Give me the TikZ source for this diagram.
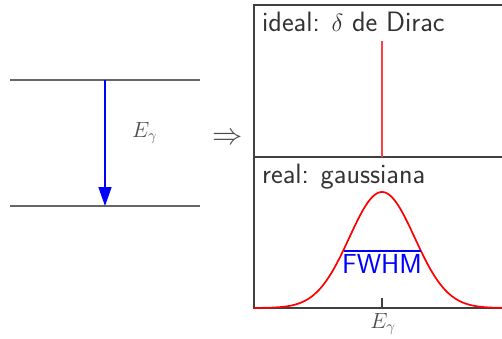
\documentclass[tikz,border=0pt]{standalone}
\usepackage{fontspec}
\usepackage{graphicx}
\usetikzlibrary{arrows.meta}
\begin{document}
\begin{tikzpicture}[x=1pt,y=-1pt,
  level/.style={draw=black!60, line width=1.6pt},
  frame/.style={draw=black!75, line width=1.4pt},
  lbl/.style={inner sep=0pt, text=black!80},
  big/.style={font=\sffamily\fontsize{28}{30}\selectfont},
  mathlbl/.style={font=\fontsize{17.28}{20}\selectfont, text=black!70}]
\useasboundingbox (0,0) rectangle (502,339);
\clip (0,0) rectangle (502,339);
% energy levels
\coordinate (u1) at (10,80); \coordinate (u2) at (200,80);
\coordinate (l1) at (10,206); \coordinate (l2) at (200,206);
\coordinate (a1) at (105,80); \coordinate (a2) at (105,206);
\draw[level] (u1) -- (u2);
\draw[level] (l1) -- (l2);
\draw[blue, line width=1.6pt, -{Triangle[length=19pt,width=13pt]}] (a1) -- (a2);
\node[lbl, mathlbl, anchor=base west] (eg) at (132,137) {\scalebox{1.273}{$E_\gamma$}};
\node[lbl, anchor=center, text=black!70, font=\fontsize{24.88}{28}\selectfont] (imp) at (228,139) {\scalebox{1.22}{$\Rightarrow$}};
% frame
\coordinate (tl) at (254,5); \coordinate (tr) at (510,5);
\coordinate (ml) at (254,157); \coordinate (mr) at (510,157);
\coordinate (bl) at (254,308); \coordinate (br) at (510,308);
\draw[frame] (tr) -- (tl) -- (bl) -- (br);
\draw[frame] (ml) -- (mr);
\node[lbl, big, anchor=base west] (ideal) at (262,32) {ideal: $\delta$ de Dirac};
\node[lbl, big, anchor=base west] (real) at (262,183) {real: gaussiana};
% delta
\coordinate (d1) at (382,41); \coordinate (d2) at (382,157);
\draw[red!75!white, line width=2pt] (d1) -- (d2);
% gaussian
\draw[red, line width=1.7pt, domain=254:510, samples=120, smooth]
  plot (\x, {308 - 116*exp(-0.5*((\x-382)/32.7)^2)});
\coordinate (f1) at (344,251); \coordinate (f2) at (421,251);
\draw[blue, line width=1.6pt] (f1) -- (f2);
\node[lbl, text=blue, font=\sffamily\fontsize{27.5}{29}\selectfont, anchor=base] (fwhm) at (382,273) {FWHM};
% tick
\coordinate (t1) at (382,298); \coordinate (t2) at (382,308);
\draw[frame, line width=1.2pt] (t1) -- (t2);
\node[lbl, mathlbl, anchor=base] (eg2) at (383,328) {\scalebox{1.273}{$E_\gamma$}};
\end{tikzpicture}
\end{document}
